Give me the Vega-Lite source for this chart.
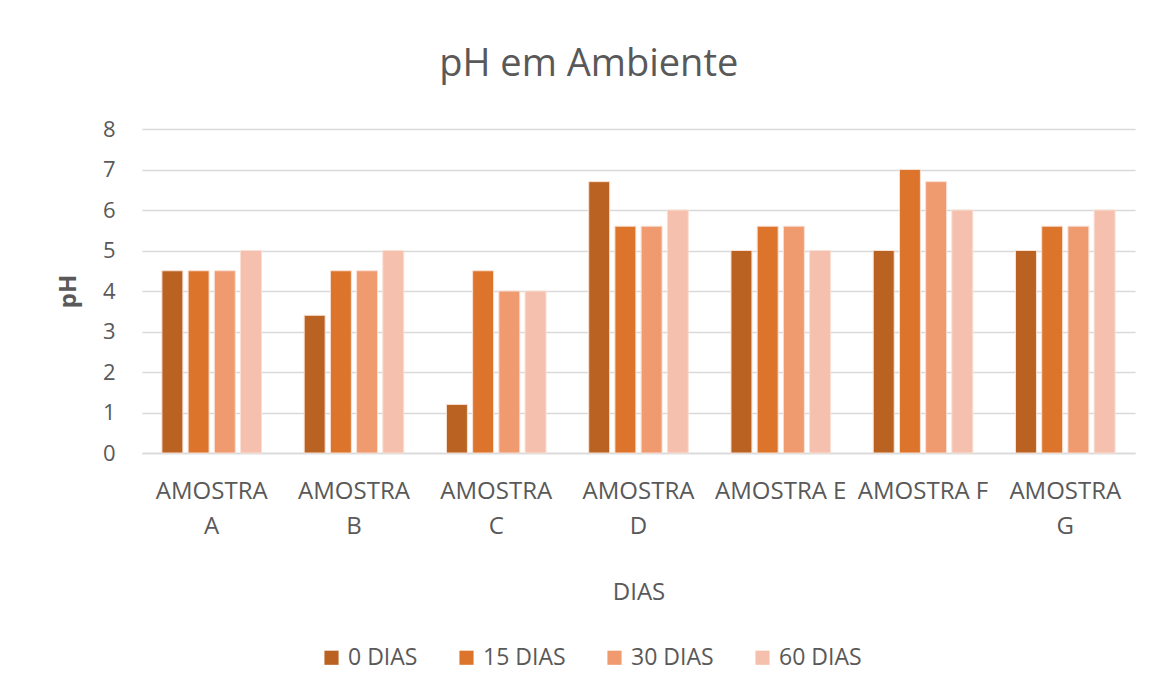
{
  "$schema": "https://vega.github.io/schema/vega-lite/v6.json",
  "width": 993,
  "height": 324,
  "autosize": "none",
  "padding": {"left": 142, "top": 129, "right": 21, "bottom": 245},
  "background": "white",
  "title": {"text": "pH em Ambiente", "fontSize": 38, "font": "Open Sans", "fontWeight": "normal", "color": "#595959", "offset": 34, "dx": -7, "anchor": "middle", "frame": "bounds"},
  "config": {"view": {"stroke": null}, "font": "Open Sans"},
  "data": {"values": [
    {"amostra": "AMOSTRA A", "dias": "0 DIAS", "ph": 4.5},
    {"amostra": "AMOSTRA A", "dias": "15 DIAS", "ph": 4.5},
    {"amostra": "AMOSTRA A", "dias": "30 DIAS", "ph": 4.5},
    {"amostra": "AMOSTRA A", "dias": "60 DIAS", "ph": 5.0},
    {"amostra": "AMOSTRA B", "dias": "0 DIAS", "ph": 3.4},
    {"amostra": "AMOSTRA B", "dias": "15 DIAS", "ph": 4.5},
    {"amostra": "AMOSTRA B", "dias": "30 DIAS", "ph": 4.5},
    {"amostra": "AMOSTRA B", "dias": "60 DIAS", "ph": 5.0},
    {"amostra": "AMOSTRA C", "dias": "0 DIAS", "ph": 1.2},
    {"amostra": "AMOSTRA C", "dias": "15 DIAS", "ph": 4.5},
    {"amostra": "AMOSTRA C", "dias": "30 DIAS", "ph": 4.0},
    {"amostra": "AMOSTRA C", "dias": "60 DIAS", "ph": 4.0},
    {"amostra": "AMOSTRA D", "dias": "0 DIAS", "ph": 6.7},
    {"amostra": "AMOSTRA D", "dias": "15 DIAS", "ph": 5.6},
    {"amostra": "AMOSTRA D", "dias": "30 DIAS", "ph": 5.6},
    {"amostra": "AMOSTRA D", "dias": "60 DIAS", "ph": 6.0},
    {"amostra": "AMOSTRA E", "dias": "0 DIAS", "ph": 5.0},
    {"amostra": "AMOSTRA E", "dias": "15 DIAS", "ph": 5.6},
    {"amostra": "AMOSTRA E", "dias": "30 DIAS", "ph": 5.6},
    {"amostra": "AMOSTRA E", "dias": "60 DIAS", "ph": 5.0},
    {"amostra": "AMOSTRA F", "dias": "0 DIAS", "ph": 5.0},
    {"amostra": "AMOSTRA F", "dias": "15 DIAS", "ph": 7.0},
    {"amostra": "AMOSTRA F", "dias": "30 DIAS", "ph": 6.7},
    {"amostra": "AMOSTRA F", "dias": "60 DIAS", "ph": 6.0},
    {"amostra": "AMOSTRA G", "dias": "0 DIAS", "ph": 5.0},
    {"amostra": "AMOSTRA G", "dias": "15 DIAS", "ph": 5.6},
    {"amostra": "AMOSTRA G", "dias": "30 DIAS", "ph": 5.6},
    {"amostra": "AMOSTRA G", "dias": "60 DIAS", "ph": 6.0}
  ]},
  "mark": {"type": "bar", "stroke": "#f8e0d4", "strokeWidth": 1},
  "encoding": {
    "x": {
      "field": "amostra", "type": "nominal", "sort": null,
      "scale": {"paddingInner": 0.3, "paddingOuter": 0.14},
      "axis": {
        "title": "DIAS", "titleFontSize": 24, "titleFontWeight": "normal", "titleColor": "#595959", "titlePadding": 42,
        "labelAngle": 0, "labelFontSize": 24, "labelColor": "#595959", "labelPadding": 26, "labelLineHeight": 35,
        "labelExpr": "(datum.value == 'AMOSTRA E' || datum.value == 'AMOSTRA F') ? datum.value : split(datum.value, ' ')",
        "ticks": false, "domainColor": "#d9d9d9", "domainWidth": 1.5, "labelBaseline": "top", "labelOverlap": false
      }
    },
    "xOffset": {"field": "dias", "type": "nominal", "sort": ["0 DIAS", "15 DIAS", "30 DIAS", "60 DIAS"], "scale": {"paddingInner": 0.2}},
    "y": {
      "field": "ph", "type": "quantitative",
      "scale": {"domain": [0, 8], "nice": false},
      "axis": {
        "title": "pH", "titleFontSize": 24, "titleFontWeight": "bold", "titleColor": "#595959", "titlePadding": 22,
        "values": [0, 1, 2, 3, 4, 5, 6, 7, 8], "labelOverlap": false, "labelFontSize": 22, "labelColor": "#595959", "labelPadding": 27,
        "ticks": false, "domain": false, "gridColor": "#d9d9d9", "gridWidth": 1.5
      }
    },
    "color": {
      "field": "dias", "type": "nominal",
      "sort": ["0 DIAS", "15 DIAS", "30 DIAS", "60 DIAS"],
      "scale": {"domain": ["0 DIAS", "15 DIAS", "30 DIAS", "60 DIAS"], "range": ["#ba6222", "#dd742c", "#f09a70", "#f5c0ae"]},
      "legend": {
        "orient": "none", "legendX": 178, "legendY": 517, "direction": "horizontal", "title": null,
        "symbolType": "square", "symbolSize": 200, "symbolStrokeWidth": 0,
        "labelFontSize": 23, "labelColor": "#595959", "columnPadding": 37, "labelOffset": 5
      }
    }
  }
}
